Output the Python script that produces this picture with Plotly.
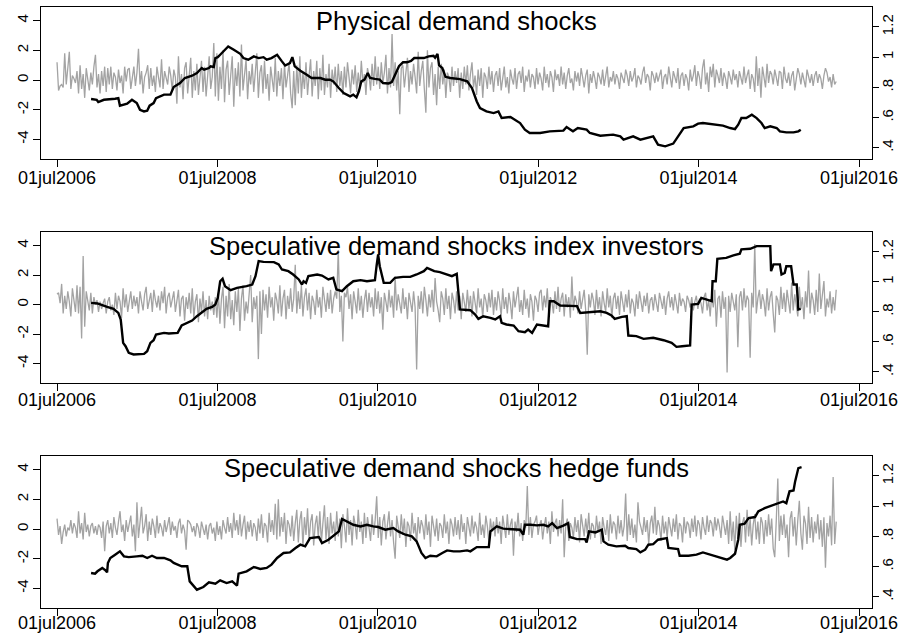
import pandas as pd
import plotly.graph_objects as go

# ---------------- data ----------------
grey_start = "2006-07-01"   # weekly series start

titles = ["Physical demand shocks",
          "Speculative demand shocks index investors",
          "Speculative demand shocks hedge funds"]

tick_dates = ["2006-07-01", "2008-07-01", "2010-07-01", "2012-07-01", "2014-07-01", "2016-07-01"]
tick_text = ["01jul2006", "01jul2008", "01jul2010", "01jul2012", "01jul2014", "01jul2016"]
left_ticks = [-4, -2, 0, 2, 4]
left_text = ["-4", "-2", "0", "2", "4"]
right_ticks = [0.4, 0.6, 0.8, 1.0, 1.2]
right_text = [".4", ".6", ".8", "1", "1.2"]

phys_grey = [
    1.2,-0.7,-0.4,-0.3,-0.5,1.8,-0.3,0.6,1.9,-0.6,0.3,0.1,-0.2,0.6,-0.9,1.0,-0.6,0.4,-1.2,0.8,0.1,-0.7,0.5,-0.3,0.9,1.7,
    -0.5,0.4,-0.9,0.6,-0.4,0.9,-0.8,0.8,-0.3,0.9,-0.6,0.5,0.2,-0.7,0.7,-0.2,0.3,-0.9,0.9,-0.1,0.7,0.8,-0.6,0.3,0.9,-0.4,
    0.5,2.1,-0.3,0.6,-0.9,0.2,0.5,1.0,-0.6,0.8,-0.4,0.3,-0.8,0.9,0.1,-0.5,1.4,-0.6,0.6,0.2,-0.3,0.9,0.3,-0.7,0.7,0.2,
    -1.6,1.6,-0.5,0.4,-1.3,0.8,1.2,-0.9,0.3,1.5,-1.2,0.6,-0.7,1.1,-1.0,0.5,1.3,-0.8,0.9,-1.1,0.4,1.6,-0.6,0.2,2.5,-1.1,
    1.8,-1.4,0.9,-0.6,2.0,-1.5,0.7,1.3,-1.0,0.4,1.6,-1.8,0.8,-0.4,1.2,-1.1,2.4,-0.7,0.5,1.4,-1.3,0.6,-0.3,1.1,-0.8,0.7,
    1.8,-1.2,0.5,1.0,-0.9,1.3,-0.6,0.4,-1.4,0.9,0.2,-0.8,1.5,-1.1,0.6,-0.4,0.8,-1.3,1.1,-0.5,0.3,1.2,-0.9,-1.9,0.6,-1.7,
    1.0,-0.9,1.6,-1.2,0.5,-0.6,1.2,-1.0,0.3,1.4,-1.1,0.6,-0.4,1.3,-1.3,0.8,-0.7,1.7,-1.0,0.4,-0.5,1.1,-1.2,0.7,-0.3,0.9,
    -0.8,1.1,-0.4,0.6,-1.0,0.9,-0.5,1.2,0.2,-0.9,0.7,-0.3,1.0,-0.8,0.5,-0.6,1.3,-0.2,0.4,-1.0,0.8,0.3,-0.7,1.1,-0.4,1.6,
    -0.3,0.9,-0.6,1.2,-0.2,0.5,1.7,-0.9,0.8,-0.5,3.1,-0.4,1.2,-0.7,0.6,-2.3,0.8,1.0,-0.5,0.4,1.5,-0.8,0.6,-0.3,1.1,0.2,
    -0.9,1.9,-0.4,0.6,1.3,-0.6,-2.2,2.0,-0.5,0.8,1.2,-1.0,0.4,-1.7,0.9,-0.6,1.1,-0.3,0.7,-1.2,0.5,0.2,-0.8,0.9,-0.4,0.6,
    -0.2,0.8,-1.2,0.5,-0.6,0.9,-0.3,1.0,-0.7,0.4,1.2,-0.5,0.3,-1.0,0.7,-0.4,0.8,-1.2,0.5,0.2,-0.6,0.9,-0.3,0.6,-0.8,0.3,
    0.6,-0.4,0.8,-0.7,0.3,0.9,-0.5,0.2,-0.9,0.7,0.1,-0.3,0.8,-0.6,0.4,0.6,-0.2,0.9,-0.8,0.3,-0.1,0.7,-0.5,0.4,0.2,-0.6,
    0.8,-0.3,0.5,0.1,-0.7,0.9,-0.2,0.4,-0.5,0.6,0.2,-0.8,0.7,0.0,0.4,-0.4,0.9,-0.3,0.5,-0.6,0.3,0.8,-0.2,0.1,-0.7,0.6,
    -0.1,0.5,-0.4,0.8,0.2,-0.5,0.3,0.7,-0.9,0.4,-0.2,0.6,0.1,-0.6,0.5,0.2,-0.3,0.7,-0.4,0.3,0.9,-0.5,0.2,-0.1,0.6,-0.3,
    0.4,0.1,-0.6,0.5,0.2,-0.2,0.7,0.3,-0.4,0.6,-0.1,0.2,0.8,-0.5,0.3,0.1,-0.3,0.5,0.9,-0.2,0.4,0.2,-0.7,0.6,0.3,-0.2,
    0.5,-0.1,0.3,0.7,-0.6,0.2,0.4,-0.3,0.9,0.1,-0.5,0.6,0.2,-0.2,0.8,-0.6,0.3,0.5,-0.4,0.4,0.1,-0.7,0.7,-0.1,0.3,1.0,
    -0.4,0.6,0.2,-0.6,0.8,1.4,-0.3,0.5,-0.8,0.9,0.2,1.1,-0.5,0.7,0.3,-0.2,0.8,-0.4,0.5,0.1,-0.6,0.6,0.2,-0.3,0.7,0.0,
    0.4,-0.5,0.6,0.2,-0.3,0.9,-0.2,0.3,0.7,-0.6,0.4,0.1,-0.8,1.6,-0.4,0.8,-1.2,0.9,0.3,-0.5,1.1,-0.2,0.6,0.4,-0.3,0.7,
    0.2,-0.4,0.6,0.5,-0.6,0.9,0.1,-0.2,0.5,-0.4,0.3,0.6,-0.7,0.2,0.8,0.4,-0.3,0.5,0.1,-0.5,0.7,0.2,-0.2,0.4,-0.4,0.3,
    0.6,-0.2,0.4,0.1,-0.6,0.3,0.8,0.5,-0.1,0.2,-0.5,0.4,-0.3,-0.1,
]

index_grey = [
    0.7,0.8,0.1,1.4,-0.6,0.6,-0.3,0.9,0.2,-0.8,1.1,0.4,-0.5,1.3,-0.6,1.2,-2.3,3.3,-1.5,0.9,0.2,-0.4,0.8,-0.6,0.5,0.0,
    0.3,-0.5,0.2,-0.3,0.1,0.4,-0.6,0.2,0.5,-0.4,0.0,-0.7,0.8,-0.3,0.6,0.2,-0.9,1.1,-0.2,0.7,-0.5,0.4,0.9,-0.3,0.6,-0.1,
    0.5,-0.6,0.9,0.2,-0.4,0.7,1.2,-0.3,0.4,0.8,-0.5,1.0,0.3,-0.2,0.6,-0.4,0.9,0.1,1.2,-0.6,0.5,0.8,-0.2,0.4,0.9,-0.5,
    0.3,1.0,-0.8,0.4,0.6,-1.1,0.5,-0.3,0.8,-0.6,1.1,-0.9,0.2,0.7,-1.2,0.4,-0.5,0.9,-0.8,0.3,-1.0,0.6,-0.4,0.2,-0.7,0.5,
    -0.9,0.8,-1.3,0.4,1.2,-1.6,0.6,-0.8,1.4,-1.0,0.3,-1.4,0.9,-0.5,1.1,-1.8,0.4,1.3,-1.1,0.2,-0.6,0.8,2.0,-1.2,0.5,-0.3,
    0.6,-3.7,0.9,-2.0,1.0,-0.4,0.7,-0.9,1.2,-0.2,0.5,-1.1,0.8,0.3,-0.6,1.3,-0.8,0.4,1.0,-1.0,0.6,-0.3,1.1,-0.5,0.4,2.7,
    -0.6,0.9,-0.3,1.3,-0.8,0.5,1.1,-0.4,0.8,-1.0,0.6,0.2,-0.7,1.0,-0.2,0.5,-0.9,1.2,0.3,-0.5,0.8,-0.3,1.0,-0.6,0.4,0.9,
    0.4,3.7,-0.5,0.6,-2.5,0.8,0.5,1.2,-0.3,0.7,-1.0,0.9,0.2,-0.6,1.1,-0.4,0.6,-0.9,0.3,1.0,-0.5,0.8,-0.2,0.5,-0.8,1.1,
    -0.3,0.9,-0.6,0.5,-1.7,0.8,0.2,-0.5,1.0,-0.2,0.6,-0.9,1.9,-0.4,0.7,0.1,-0.6,1.1,-0.3,0.5,-1.0,0.8,0.2,-0.5,0.9,-0.2,
    -4.4,0.6,-0.3,0.9,-0.6,1.2,0.3,-0.8,0.7,-0.2,1.0,-0.5,1.8,0.2,-0.4,-1.2,0.9,0.4,-0.7,1.1,-0.3,0.6,-1.0,0.8,0.3,-0.6,
    0.9,-0.4,0.6,-1.0,0.8,0.2,-0.5,1.0,-0.3,0.6,-0.8,0.9,0.1,-0.6,1.1,-0.2,0.4,-0.9,0.7,0.3,-0.5,0.8,-0.2,1.0,-0.7,0.5,
    -0.4,0.9,0.2,-0.8,1.1,-0.3,0.5,-0.6,0.8,0.1,-1.0,0.9,-0.2,0.6,1.2,-0.5,0.3,-0.7,1.0,-0.3,0.4,-0.9,0.7,0.2,-1.1,0.6,
    0.3,-0.5,0.8,1.0,-0.4,0.6,-0.2,1.1,-0.7,0.5,0.2,-0.6,0.9,-0.3,1.2,-0.5,0.4,0.8,-0.8,0.7,-0.2,0.5,-0.9,1.9,-0.4,0.6,
    0.2,-0.6,0.9,-0.3,0.5,1.0,-0.4,-3.4,0.7,-0.2,0.8,0.3,-0.7,1.0,-0.3,0.5,-0.8,0.9,0.1,-0.5,1.1,-0.2,0.6,-0.9,0.4,0.8,
    -0.3,0.6,-0.7,0.9,0.2,-0.5,0.7,-0.2,1.0,-0.6,0.4,0.1,-0.8,0.7,-0.3,0.9,0.2,-0.5,0.6,-0.1,0.8,-0.6,0.3,0.5,-0.4,0.7,
    0.1,-0.5,0.8,0.3,-0.3,0.6,-0.7,0.4,0.9,-0.2,0.5,-0.4,0.7,0.1,-0.6,0.8,-0.1,0.4,0.2,-0.5,0.6,0.3,-0.2,0.5,-0.4,0.2,
    0.6,-0.3,0.4,0.1,-0.6,0.5,0.8,-0.4,0.3,-0.8,0.7,-0.2,1.0,-1.5,0.4,0.6,-0.9,0.9,-0.3,0.5,-4.6,0.6,-0.5,0.8,0.2,-0.4,
    0.7,-2.9,0.5,0.9,-0.4,1.1,-0.2,0.6,0.3,-3.6,0.8,-0.2,4.1,-0.6,0.4,1.0,-0.3,0.7,0.2,-0.8,1.1,-0.4,0.5,0.9,-0.6,-1.9,
    0.6,0.3,-0.7,1.2,-0.3,0.8,-0.5,1.0,0.2,-0.6,1.5,-0.4,0.7,0.1,-0.8,1.2,-0.3,0.5,-1.0,0.9,-0.2,2.3,-0.6,0.8,0.3,-0.7,
    1.0,-0.5,2.1,-0.3,0.6,1.6,-0.8,0.4,-0.2,0.9,-0.6,0.5,-0.4,1.0,
]

hedge_grey = [
    0.7,-0.4,0.2,-1.0,-0.2,0.3,-0.5,0.1,-0.1,0.6,-0.3,0.4,0.1,-0.6,1.2,-0.3,0.4,-0.7,1.1,-0.2,0.3,-0.5,0.2,0.4,-0.3,0.2,
    -0.4,0.3,0.1,-0.6,0.5,-1.5,0.2,0.6,-0.3,0.4,-0.6,0.8,0.1,-0.4,0.5,1.2,-0.2,0.3,-0.8,0.6,-0.2,0.4,0.9,-0.5,0.3,-1.5,
    1.8,-0.6,0.4,1.5,-0.3,0.2,1.0,-0.8,0.5,-0.4,0.7,0.2,-0.6,0.9,-0.3,0.4,0.1,-0.5,0.6,-0.2,0.3,0.8,-0.4,0.5,-0.1,0.2,
    -0.6,0.4,0.7,-0.3,0.3,-0.1,-1.4,0.6,0.5,0.3,-0.2,0.2,-0.5,0.4,0.1,-0.6,0.5,0.0,-0.4,0.3,-0.7,0.2,0.4,-0.3,0.1,-0.8,
    0.5,-0.4,0.2,-0.7,0.6,0.1,-0.3,0.8,-0.2,0.4,-0.6,1.1,-0.1,0.6,-0.4,1.0,-0.5,0.3,0.9,-0.7,0.5,-0.2,0.6,-0.5,0.4,0.1,
    -0.8,0.7,-0.3,1.0,-0.6,0.4,0.2,-0.9,1.1,-0.2,0.6,-0.4,1.7,-0.7,2.0,-0.5,0.8,-0.2,1.1,-1.0,0.6,0.3,-0.5,0.9,-0.8,0.4,
    1.3,-0.9,0.6,1.2,-1.2,0.8,-0.4,1.4,-0.8,0.5,1.0,-1.1,0.3,0.9,-0.6,1.2,-0.9,0.4,1.6,-0.7,0.8,-1.0,1.1,-0.3,0.5,-0.8,
    1.2,-0.5,0.7,-1.3,1.0,0.2,-0.9,1.4,-0.4,0.6,-1.1,0.9,0.3,-0.7,1.3,-0.2,0.5,-1.0,1.1,-0.6,0.8,0.1,-0.8,1.0,-0.4,0.6,
    2.2,-0.6,0.8,-1.1,0.5,1.0,-0.7,0.3,1.2,-0.5,0.6,-0.9,-2.0,0.9,0.2,-0.6,1.0,-0.4,0.7,-1.2,0.5,0.2,-0.8,1.1,-0.3,0.4,
    -1.0,0.8,-0.3,0.6,0.2,-0.7,1.0,-0.4,0.5,-1.2,0.9,0.1,-0.5,0.7,-0.8,0.4,0.2,-0.6,1.0,-0.3,0.5,-1.0,0.7,0.3,-0.5,0.8,
    -0.4,0.6,-0.7,1.0,-0.2,0.4,-1.0,0.8,0.2,-0.5,0.9,-0.3,0.5,0.1,-0.8,1.1,-0.4,0.3,-0.6,0.9,0.2,-0.9,0.7,-0.2,0.5,-0.5,
    0.8,-0.3,0.5,-1.0,0.9,0.2,-0.6,1.0,-0.4,0.3,0.7,-1.8,0.5,-0.2,1.1,-0.5,0.4,-0.8,0.6,0.1,2.9,-0.4,0.8,-0.6,0.3,0.5,
    0.9,-0.4,0.3,0.6,-0.7,0.2,0.8,-0.3,0.5,-1.0,1.2,-0.2,0.4,0.7,-0.5,0.6,-0.3,2.0,-1.9,0.2,0.7,-0.8,0.4,0.1,-0.6,0.8,
    -0.2,0.6,-0.9,1.0,0.3,-0.5,0.7,-0.3,1.1,-0.7,0.4,0.2,-0.6,0.9,-0.2,0.5,-1.0,0.8,0.1,-0.4,0.6,-0.8,1.0,-0.3,0.5,0.3,
    -0.7,0.9,-0.3,0.6,-0.5,0.2,2.4,-0.8,1.0,-0.4,0.7,-0.6,0.3,-0.9,1.8,0.5,0.1,-0.4,0.8,-0.2,0.6,-1.0,0.4,0.9,-0.3,1.5,
    -0.4,0.6,0.2,-0.8,0.9,-0.3,0.5,-0.6,0.8,0.1,-0.5,0.7,-0.2,1.0,-0.7,0.4,0.2,-0.9,0.8,-0.3,0.5,0.3,-0.6,0.7,-0.2,0.9,
    -0.5,0.6,0.3,-0.7,0.8,0.1,-0.4,0.9,-0.2,0.6,0.4,-0.5,0.8,-0.1,0.7,0.2,-0.6,0.9,0.3,-0.4,0.6,-1.0,1.2,-0.8,0.5,-1.4,
    0.9,-0.6,1.1,-1.2,0.4,0.8,-0.9,1.3,-0.5,0.7,-1.1,0.3,1.0,-0.7,0.5,-1.0,0.8,0.4,-1.0,0.6,-0.5,1.0,-0.4,0.7,-1.3,-1.9,
    0.6,3.4,-0.8,0.9,-0.4,1.0,-0.6,0.3,-1.9,0.7,1.2,-0.5,0.8,-1.1,0.6,1.9,-0.3,-1.4,0.9,0.4,-1.0,1.5,-0.6,0.8,-0.9,0.5,
    -0.3,1.0,-0.7,0.6,-1.2,0.8,-2.6,0.4,-0.5,0.9,-1.1,3.5,-1.0,0.5,
]

# black lines (right axis): decimal-year dates and values
phys_black_t = [2006.92,2006.99,2007.01,2007.08,2007.22,2007.26,2007.28,2007.37,2007.43,2007.49,2007.53,2007.58,2007.62,2007.65,2007.70,2007.73,2007.83,2007.91,2007.95,2008.03,2008.09,2008.18,2008.24,2008.30,2008.33,2008.39,2008.41,2008.45,2008.47,2008.50,2008.53,2008.57,2008.63,2008.70,2008.74,2008.78,2008.82,2008.88,2008.95,2009.01,2009.07,2009.11,2009.17,2009.24,2009.30,2009.34,2009.40,2009.43,2009.46,2009.53,2009.61,2009.67,2009.78,2009.84,2009.90,2009.94,2010.01,2010.07,2010.15,2010.19,2010.23,2010.26,2010.29,2010.33,2010.37,2010.40,2010.46,2010.52,2010.56,2010.63,2010.67,2010.71,2010.76,2010.81,2010.86,2010.91,2010.95,2011.07,2011.13,2011.19,2011.21,2011.24,2011.26,2011.30,2011.34,2011.40,2011.52,2011.61,2011.67,2011.73,2011.77,2011.85,2011.94,2012.00,2012.04,2012.15,2012.21,2012.27,2012.33,2012.39,2012.52,2012.64,2012.81,2012.85,2012.90,2012.93,2012.99,2013.10,2013.14,2013.27,2013.43,2013.52,2013.56,2013.68,2013.77,2013.87,2013.93,2013.99,2014.08,2014.18,2014.24,2014.31,2014.43,2014.49,2014.55,2014.68,2014.80,2014.89,2014.95,2014.99,2015.03,2015.09,2015.16,2015.22,2015.28,2015.32,2015.39,2015.47,2015.51,2015.59,2015.68,2015.74,2015.77]
phys_black_v = [.723,.718,.703,.718,.725,.729,.679,.692,.718,.696,.652,.641,.646,.679,.696,.729,.752,.752,.802,.829,.862,.877,.895,.928,.917,.928,.939,.935,.994,1.000,1.016,1.038,1.071,1.049,1.038,1.022,.994,.983,1.005,.994,1.000,.983,.994,1.016,.972,.945,.961,1.000,.939,.910,.884,.862,.862,.851,.851,.840,.796,.763,.741,.752,.734,.774,.840,.851,.895,.862,.856,.851,.829,.826,.835,.884,.940,.966,.966,.975,.994,.994,1.005,1.009,.996,1.022,.945,.928,.870,.862,.855,.840,.796,.707,.663,.641,.630,.641,.597,.604,.586,.564,.520,.498,.498,.509,.514,.538,.520,.509,.531,.520,.498,.480,.487,.476,.454,.476,.454,.465,.476,.421,.410,.428,.476,.531,.542,.560,.564,.553,.547,.531,.524,.553,.597,.597,.619,.597,.564,.531,.542,.531,.509,.502,.502,.509,.520]

index_black_t = [2006.92,2007.00,2007.12,2007.20,2007.26,2007.29,2007.32,2007.35,2007.39,2007.45,2007.58,2007.62,2007.66,2007.70,2007.73,2007.78,2007.83,2007.89,2007.95,2008.00,2008.05,2008.12,2008.18,2008.24,2008.30,2008.36,2008.43,2008.47,2008.50,2008.53,2008.56,2008.59,2008.66,2008.74,2008.86,2008.93,2008.97,2009.01,2009.07,2009.20,2009.26,2009.30,2009.38,2009.44,2009.51,2009.55,2009.57,2009.60,2009.63,2009.74,2009.80,2009.84,2009.88,2009.94,2009.98,2010.05,2010.11,2010.19,2010.28,2010.36,2010.46,2010.48,2010.50,2010.52,2010.57,2010.65,2010.71,2010.81,2010.90,2010.98,2011.07,2011.11,2011.20,2011.27,2011.35,2011.42,2011.48,2011.50,2011.52,2011.65,2011.71,2011.75,2011.81,2011.90,2011.96,2012.02,2012.04,2012.10,2012.19,2012.25,2012.33,2012.37,2012.42,2012.48,2012.58,2012.62,2012.64,2012.69,2012.77,2012.89,2012.98,2013.02,2013.10,2013.27,2013.35,2013.41,2013.45,2013.54,2013.60,2013.62,2013.72,2013.81,2013.93,2014.06,2014.16,2014.22,2014.29,2014.39,2014.41,2014.49,2014.53,2014.60,2014.66,2014.67,2014.71,2014.73,2014.84,2014.93,2015.01,2015.03,2015.14,2015.22,2015.39,2015.40,2015.43,2015.51,2015.53,2015.57,2015.59,2015.65,2015.68,2015.72,2015.74,2015.77]
index_black_v = [.860,.856,.833,.820,.793,.749,.593,.571,.527,.516,.520,.538,.593,.611,.649,.656,.660,.656,.656,.660,.709,.727,.742,.771,.798,.820,.833,.849,.893,1.004,1.020,.971,.944,.960,.971,.982,1.038,1.138,1.133,1.131,1.116,1.082,1.071,1.049,1.016,.982,1.004,.993,1.038,1.049,1.042,1.027,1.016,1.027,.949,.938,.971,1.004,1.011,1.004,1.011,1.104,1.182,1.104,.993,.993,1.027,1.033,1.033,1.049,1.071,1.093,1.071,1.065,1.053,1.038,1.053,.904,.816,.811,.782,.753,.771,.760,.749,.771,.727,.716,.709,.671,.664,.682,.660,.716,.709,.704,.871,.871,.842,.838,.838,.793,.798,.804,.793,.776,.753,.767,.771,.642,.638,.620,.627,.611,.593,.567,.571,.576,.849,.853,.893,.882,.871,1.004,1.004,1.153,1.160,1.176,1.187,1.216,1.220,1.238,1.238,1.071,1.116,1.116,1.049,1.060,1.104,1.104,.982,.982,.816,.820]

hedge_black_t = [2006.92,2006.97,2007.00,2007.06,2007.10,2007.12,2007.13,2007.16,2007.22,2007.28,2007.33,2007.39,2007.49,2007.56,2007.62,2007.68,2007.74,2007.83,2007.91,2007.95,2008.05,2008.12,2008.15,2008.20,2008.24,2008.32,2008.39,2008.47,2008.53,2008.61,2008.68,2008.74,2008.76,2008.86,2008.95,2009.03,2009.11,2009.17,2009.24,2009.32,2009.40,2009.47,2009.53,2009.59,2009.65,2009.76,2009.80,2009.88,2009.94,2010.01,2010.05,2010.11,2010.19,2010.28,2010.36,2010.44,2010.50,2010.59,2010.69,2010.75,2010.84,2010.92,2010.98,2011.04,2011.09,2011.15,2011.23,2011.30,2011.36,2011.44,2011.52,2011.61,2011.65,2011.73,2011.85,2011.88,2011.90,2011.98,2012.06,2012.17,2012.27,2012.31,2012.33,2012.40,2012.48,2012.56,2012.62,2012.67,2012.73,2012.81,2012.87,2012.89,2012.98,2013.08,2013.10,2013.13,2013.21,2013.29,2013.31,2013.37,2013.47,2013.58,2013.62,2013.72,2013.77,2013.83,2013.87,2013.93,2013.99,2014.10,2014.12,2014.24,2014.26,2014.37,2014.47,2014.55,2014.64,2014.74,2014.85,2014.89,2014.95,2014.99,2015.01,2015.07,2015.12,2015.20,2015.24,2015.32,2015.43,2015.55,2015.59,2015.63,2015.68,2015.70,2015.74,2015.78]
hedge_black_v = [.558,.553,.569,.591,.575,.562,.624,.657,.679,.701,.668,.663,.668,.672,.657,.672,.657,.657,.641,.624,.602,.602,.502,.469,.447,.465,.496,.487,.509,.491,.502,.474,.553,.569,.597,.584,.591,.613,.657,.690,.694,.723,.745,.734,.789,.796,.756,.778,.804,.833,.915,.899,.877,.866,.877,.866,.862,.844,.855,.833,.811,.800,.767,.690,.657,.672,.668,.690,.707,.701,.701,.707,.701,.729,.729,.729,.833,.866,.851,.848,.844,.811,.877,.877,.873,.877,.866,.888,.855,.871,.888,.796,.782,.782,.760,.833,.826,.844,.767,.745,.734,.738,.723,.716,.694,.712,.745,.749,.778,.789,.723,.716,.672,.672,.679,.694,.679,.663,.646,.657,.685,.778,.877,.884,.921,.928,.965,.987,1.009,1.031,1.020,1.098,1.104,1.164,1.252,1.258]

# ---------------- figure ----------------
def yr_to_date(ts):
    base = pd.Timestamp("2006-01-01")
    return [base + pd.Timedelta(days=(t - 2006.0) * 365.25) for t in ts]

greys = [phys_grey, index_grey, hedge_grey]
blacks = [(phys_black_t, phys_black_v), (index_black_t, index_black_v), (hedge_black_t, hedge_black_v)]

W, H = 900, 639
panels_px = [(7, 159), (232, 383), (456, 608)]
title_shift = [2, 2, 4]
xlabel_standoff = [-5, -7, -9]
x_dom = [41 / W, 872 / W]
FONT = "Liberation Sans, Arial, sans-serif"
GREY = "#a3a3a3"
XTICKFONT = dict(family=FONT, size=18, color="black")
YTICKFONT = dict(family=FONT, size=15, color="black")

fig = go.Figure()
layout = dict(width=W, height=H, margin=dict(l=0, r=0, t=0, b=0, autoexpand=False),
              paper_bgcolor="white", plot_bgcolor="white", showlegend=False,
              font=dict(family=FONT, color="black"))
annotations = []

for i in range(3):
    xa = "x" if i == 0 else f"x{i+1}"
    yl = "y" if i == 0 else f"y{2*i+1}"
    yr = f"y{2*i+2}"
    top, bot = panels_px[i]
    dom = [1 - bot / H, 1 - top / H]

    gdates = pd.date_range(grey_start, periods=len(greys[i]), freq="7D")
    fig.add_trace(go.Scatter(x=gdates, y=greys[i], mode="lines",
                             line=dict(color=GREY, width=1.3),
                             xaxis=xa, yaxis=yl, hoverinfo="skip"))
    bt, bv = blacks[i]
    fig.add_trace(go.Scatter(x=yr_to_date(bt), y=bv, mode="lines",
                             line=dict(color="black", width=2.4),
                             xaxis=xa, yaxis=yr, hoverinfo="skip"))

    xkey = "xaxis" if i == 0 else f"xaxis{i+1}"
    ylkey = "yaxis" if i == 0 else f"yaxis{2*i+1}"
    yrkey = f"yaxis{2*i+2}"
    layout[xkey] = dict(domain=x_dom, anchor=yl, type="date", automargin=False,
                        range=["2006-04-19", "2016-08-29"],
                        tickmode="array", tickvals=tick_dates, ticktext=tick_text,
                        showline=True, mirror=True, linecolor="black", linewidth=1,
                        ticks="outside", ticklen=7, tickcolor="black",
                        ticklabelstandoff=xlabel_standoff[i],
                        showgrid=False, zeroline=False, tickfont=XTICKFONT)
    layout[ylkey] = dict(domain=dom, anchor=xa, range=[-5.32, 4.92], automargin=False,
                         tickmode="array", tickvals=left_ticks, ticktext=left_text,
                         tickangle=-90, showline=True, linecolor="black", linewidth=1,
                         ticks="outside", ticklen=7, tickcolor="black",
                         ticklabelstandoff=-1,
                         showgrid=False, zeroline=False, tickfont=YTICKFONT)
    layout[yrkey] = dict(domain=dom, anchor=xa, overlaying=yl, side="right",
                         range=[0.326, 1.332], automargin=False,
                         tickmode="array", tickvals=right_ticks, ticktext=right_text,
                         tickangle=-90, showline=True, linecolor="black", linewidth=1,
                         ticks="outside", ticklen=6, tickcolor="black",
                         ticklabelstandoff=-4,
                         showgrid=False, zeroline=False, tickfont=YTICKFONT)
    annotations.append(dict(text=titles[i], xref="paper", yref="paper",
                            x=(x_dom[0] + x_dom[1]) / 2, y=dom[1], yshift=title_shift[i],
                            xanchor="center", yanchor="top", showarrow=False,
                            font=dict(family=FONT, size=25.5, color="black")))

layout["annotations"] = annotations
fig.update_layout(**layout)
fig.write_html("out.html", config={"displayModeBar": False},
               post_script="document.body.style.margin='0';document.body.style.overflow='hidden';")
